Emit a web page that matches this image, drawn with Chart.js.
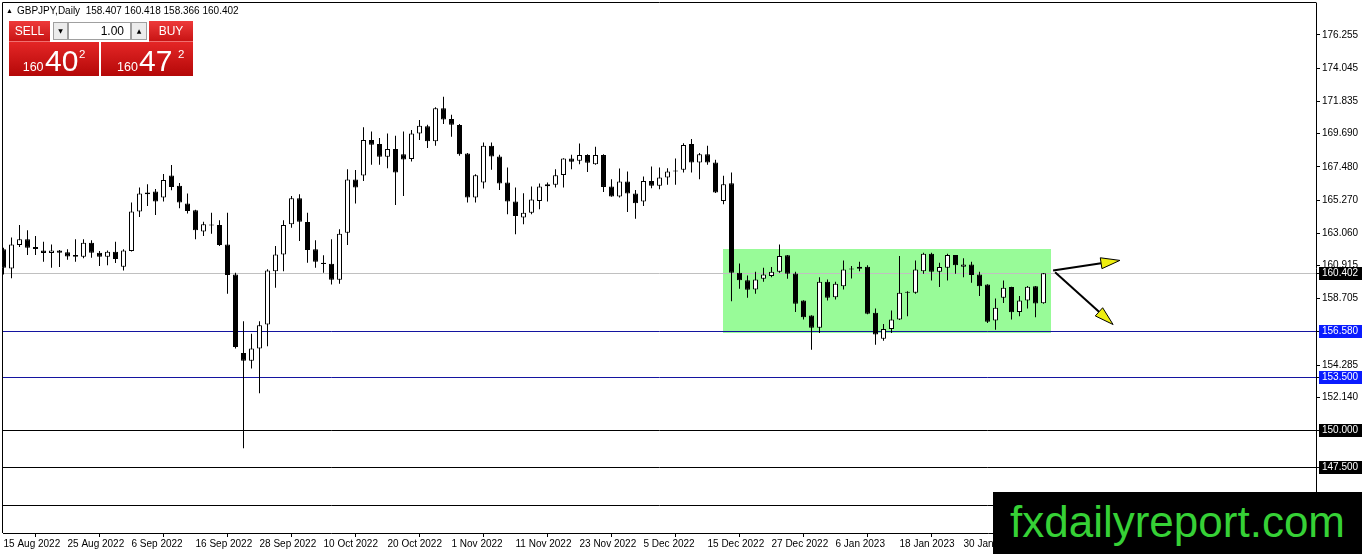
<!DOCTYPE html>
<html><head><meta charset="utf-8">
<script src="https://cdn.jsdelivr.net/npm/chart.js@4.4.1/dist/chart.umd.min.js"></script>
<style>
html,body{margin:0;padding:0;background:#fff;}
#wrap{position:relative;width:1362px;height:554px;overflow:hidden;}
canvas{display:block;}
#hdr{position:absolute;left:6px;top:6px;font:10px "Liberation Sans",Arial,sans-serif;color:#000;white-space:pre;line-height:1;}
#hdr .tri{font-size:7px;vertical-align:1px;margin-right:4px;}
.btn{position:absolute;background:linear-gradient(#ee3a3a,#c81414);color:#fff;font:12px "Liberation Sans",Arial,sans-serif;text-align:center;box-sizing:border-box;border-bottom:1px solid #f07070;}
.spin{position:absolute;background:#ececec;border:1px solid #a0a0a0;box-sizing:border-box;font:6px "DejaVu Sans",sans-serif;text-align:center;line-height:16px;color:#000;}
.fld{position:absolute;background:#fff;border:1px solid #a0a0a0;box-sizing:border-box;font:12px "Liberation Sans",Arial,sans-serif;text-align:right;padding-right:6px;line-height:16px;color:#000;}
.big{position:absolute;background:linear-gradient(#e42626,#b40808);color:#fff;font-family:"Liberation Sans",Arial,sans-serif;}
.big span{position:absolute;line-height:1;white-space:pre;}
.big .s{font-size:12.5px;top:19px;}
.big .b{font-size:30px;top:4px;}
.big .p{font-size:11.5px;top:6.5px;}
#wm{position:absolute;left:993px;top:492px;width:369px;height:62px;background:#000;}
#wm span{position:absolute;left:17px;top:8px;font:44px "Liberation Sans",Arial,sans-serif;line-height:1;color:#36d136;white-space:pre;}
</style></head>
<body>
<div id="wrap">
<canvas id="c" width="1362" height="554"></canvas>
<div id="hdr"><span class="tri">▲</span>GBPJPY,Daily  158.407 160.418 158.366 160.402</div>
<div class="btn" style="left:9px;top:21px;width:41px;height:21px;line-height:20px;">SELL</div>
<div class="spin" style="left:53px;top:22px;width:15px;height:18px;">▼</div>
<div class="fld" style="left:68px;top:22px;width:63px;height:18px;">1.00</div>
<div class="spin" style="left:131px;top:22px;width:16px;height:18px;">▲</div>
<div class="btn" style="left:149px;top:21px;width:44px;height:21px;line-height:20px;">BUY</div>
<div class="big" style="left:9px;top:42px;width:90px;height:34px;">
  <span class="s" style="left:13.7px;">160</span><span class="b" style="left:36px;">40</span><span class="p" style="left:70px;">2</span>
</div>
<div class="big" style="left:101px;top:42px;width:92px;height:34px;">
  <span class="s" style="left:16px;">160</span><span class="b" style="left:38px;">47</span><span class="p" style="left:77px;">2</span>
</div>
<div id="wm"><span>fxdailyreport.com</span></div>
</div>
<script>
// ---- data (GBPJPY daily, bar index 0 = 15 Aug 2022) ----
const openP = [161.99,160.72,162.28,162.66,162.14,161.92,161.74,161.92,161.79,161.61,
161.50,162.43,161.77,161.50,161.83,160.83,161.88,164.50,165.77,165.83,
165.43,166.90,166.21,165.03,164.59,163.17,163.60,163.61,162.32,160.32,
155.10,154.59,155.39,156.99,160.54,161.65,163.66,165.39,163.81,161.99,
161.10,161.03,159.97,163.10,166.63,166.90,169.26,168.99,168.14,168.66,
168.32,167.99,169.70,170.17,169.17,171.37,170.66,170.26,168.37,165.43,
166.43,168.88,168.17,166.43,165.17,164.10,164.43,165.21,166.19,166.28,
166.94,168.03,167.88,168.26,167.65,168.26,166.17,165.50,166.50,165.70,
165.17,166.54,166.21,166.77,167.17,167.28,168.99,167.77,168.32,167.77,
165.21,166.39,160.43,159.94,159.32,160.03,160.21,160.50,161.59,160.39,
158.59,157.59,156.77,159.83,158.81,159.54,160.72,160.70,160.83,157.77,
156.05,156.70,157.32,159.10,159.10,160.54,161.70,160.50,160.77,161.61,
160.83,160.99,160.32,159.65,157.26,158.77,159.48,157.83,158.59,159.54,
158.407];
const highP = [162.10,162.77,163.61,163.26,162.88,162.50,162.32,161.94,161.99,162.66,
162.66,162.59,161.88,161.92,162.50,161.99,165.10,166.10,166.32,166.00,
167.00,167.60,166.40,165.70,164.62,163.83,164.43,163.92,164.43,160.43,
157.21,156.37,157.21,160.66,162.21,163.92,165.54,165.65,164.43,162.59,
161.59,162.66,163.32,167.32,167.26,170.10,169.83,169.39,169.70,169.54,
169.83,169.92,170.59,170.28,171.43,172.14,170.94,170.32,168.40,166.99,
169.10,169.10,168.28,167.43,166.10,165.72,166.17,166.37,166.43,167.32,
168.05,168.28,169.03,168.32,168.81,168.32,166.65,167.37,167.17,165.94,
166.83,167.50,167.43,167.39,168.03,169.05,169.32,168.39,168.88,167.94,
166.88,167.10,161.05,160.25,160.50,160.77,160.81,162.32,161.62,160.50,
158.60,157.60,160.14,159.99,159.83,161.25,160.88,161.17,160.94,158.05,
157.03,157.92,161.54,159.20,161.25,161.77,161.77,161.10,161.70,161.62,
161.39,161.17,160.50,159.67,158.72,159.92,159.50,158.88,159.55,159.56,
160.418];
const lowP = [160.32,160.06,162.14,161.61,161.61,161.17,160.77,160.81,161.30,161.17,
161.39,161.43,160.88,160.94,161.08,160.59,161.85,164.14,164.88,164.28,
165.17,165.92,164.72,164.37,162.66,162.88,163.03,162.21,159.03,155.39,
148.77,154.06,152.43,155.54,159.43,160.54,163.43,162.54,161.10,160.77,
160.43,159.65,159.70,162.28,165.03,166.54,167.61,167.61,167.39,164.94,
165.54,167.83,169.26,168.72,168.88,170.32,169.48,168.21,165.10,165.10,
166.03,167.28,165.94,164.32,162.99,163.66,164.32,164.66,165.17,166.10,
166.10,167.32,167.65,167.14,167.61,165.81,165.48,165.43,164.48,164.03,
164.88,166.06,165.99,166.28,166.28,167.10,167.10,166.65,167.61,165.74,
164.99,158.54,159.37,158.77,159.03,159.83,160.14,160.43,160.03,157.83,
157.32,155.32,156.43,158.59,158.65,159.32,160.05,160.54,157.68,155.65,
155.92,156.43,157.30,157.54,159.03,160.37,159.92,159.48,159.92,160.37,
160.14,159.77,158.88,157.10,156.65,158.43,157.32,157.54,158.05,157.48,
158.366];
const closeP = [160.77,162.32,162.66,162.10,162.01,161.74,161.92,161.77,161.52,161.50,
162.43,161.77,161.50,161.83,161.34,161.92,164.50,165.70,165.66,165.17,
166.60,166.14,165.10,164.54,163.26,163.66,163.57,162.28,160.28,155.50,
154.59,155.39,156.94,160.59,161.65,163.61,165.39,163.83,161.94,161.17,
161.01,159.97,163.03,166.63,166.10,169.26,168.94,168.14,168.66,167.10,
167.97,169.70,170.21,169.17,171.37,170.63,170.28,168.32,165.43,166.92,
168.88,168.17,166.37,165.17,164.21,164.43,165.30,166.17,166.32,166.92,
168.03,167.81,168.26,167.74,168.26,166.14,165.50,166.50,165.70,165.05,
166.54,166.21,166.77,167.17,167.23,168.92,167.77,168.32,167.77,165.77,
166.32,160.43,159.94,159.30,159.99,160.32,160.50,161.54,160.37,158.37,
157.48,156.77,159.83,158.77,159.70,160.65,160.65,160.83,157.70,156.32,
156.70,157.32,159.10,159.17,160.65,161.70,160.50,160.81,161.61,160.94,
160.99,160.28,159.54,157.17,158.10,159.43,157.81,158.59,159.50,158.39,
160.402];

const tickIndex = [0,8,16,24,32,40,48,56,64,72,80,88,96,104,112,120];
const tickLabels = ["15 Aug 2022","25 Aug 2022","6 Sep 2022","16 Sep 2022","28 Sep 2022","10 Oct 2022",
  "20 Oct 2022","1 Nov 2022","11 Nov 2022","23 Nov 2022","5 Dec 2022","15 Dec 2022",
  "27 Dec 2022","6 Jan 2023","18 Jan 2023","30 Jan 2023"];
const priceTicks = [176.255,174.045,171.835,169.690,167.480,165.270,163.060,160.915,158.705,154.285,152.140];

// horizontal levels
const levelValues = [156.580,153.500,150.000,147.500,145.000];
const levelColors = ['#1414a0','#1414a0','#000000','#000000','#000000'];
const currentPrice = 160.402;
// tagged price labels on the axis
const tagValues = [160.402,156.580,153.500,150.000,147.500];
const tagColors = ['#000000','#0a1cff','#0a1cff','#000000','#000000'];
// range rectangle (bar index / price)
const zoneX = [89.95,130.94];
const zoneY = [161.99,156.39];
// arrows (bar index / price)
const arrowStartX = [131.2,131.45];
const arrowStartY = [160.59,160.46];
const arrowEndX = [139.55,138.7];
const arrowEndY = [161.255,156.99];

const FONT = '"Liberation Sans", Arial, sans-serif';

const bodyData = openP.map((o,i)=>({x:i, y:[Math.min(o,closeP[i]), Math.max(o,closeP[i])]}));
const wickData = openP.map((o,i)=>({x:i, y:[lowP[i], highP[i]]}));

function drawArrow(ctx,x0,y0,x1,y1){
  const a=Math.atan2(y1-y0,x1-x0), len=19, half=5.5;
  const bx=x1-len*Math.cos(a), by=y1-len*Math.sin(a);
  ctx.strokeStyle='#000'; ctx.lineWidth=2;
  ctx.beginPath(); ctx.moveTo(x0,y0); ctx.lineTo(bx,by); ctx.stroke();
  ctx.beginPath(); ctx.moveTo(x1,y1);
  ctx.lineTo(bx+half*Math.sin(a), by-half*Math.cos(a));
  ctx.lineTo(bx-half*Math.sin(a), by+half*Math.cos(a));
  ctx.closePath();
  ctx.fillStyle='#eeee10'; ctx.fill(); ctx.lineWidth=1; ctx.stroke();
}

const overlay = {
  id:'overlay',
  beforeDatasetsDraw(chart){
    const {ctx, chartArea:a, scales:{x,y}} = chart;
    ctx.save();
    ctx.beginPath(); ctx.rect(a.left,a.top,a.right-a.left,a.bottom-a.top); ctx.clip();
    const zx0=x.getPixelForValue(zoneX[0]), zx1=x.getPixelForValue(zoneX[1]);
    const zy0=y.getPixelForValue(zoneY[0]), zy1=y.getPixelForValue(zoneY[1]);
    ctx.fillStyle='#98fb98';
    ctx.fillRect(Math.round(zx0),Math.round(zy0),Math.round(zx1-zx0),Math.round(zy1-zy0));
    ctx.lineWidth=1;
    const cp=Math.round(y.getPixelForValue(currentPrice))+0.5;
    ctx.strokeStyle='#c0c0c0';
    ctx.beginPath(); ctx.moveTo(a.left,cp); ctx.lineTo(a.right,cp); ctx.stroke();
    levelValues.forEach((v,k)=>{
      const py=Math.round(y.getPixelForValue(v))+0.5;
      ctx.strokeStyle=levelColors[k];
      ctx.beginPath(); ctx.moveTo(a.left,py); ctx.lineTo(a.right,py); ctx.stroke();
    });
    ctx.restore();
  },
  afterDatasetsDraw(chart){
    const {ctx, scales:{x,y}} = chart;
    ctx.save();
    for(let k=0;k<arrowStartX.length;k++){
      drawArrow(ctx,x.getPixelForValue(arrowStartX[k]),y.getPixelForValue(arrowStartY[k]),
                    x.getPixelForValue(arrowEndX[k]),y.getPixelForValue(arrowEndY[k]));
    }
    ctx.restore();
  },
  afterDraw(chart){
    const {ctx, chartArea:a, scales:{y}} = chart;
    ctx.save();
    ctx.strokeStyle='#000'; ctx.lineWidth=1;
    ctx.beginPath();
    ctx.moveTo(a.left-0.5,a.bottom); ctx.lineTo(a.left-0.5,a.top-0.5); ctx.lineTo(a.right+0.5,a.top-0.5);
    ctx.stroke();
    ctx.font='10px '+FONT; ctx.textBaseline='middle'; ctx.textAlign='left';
    tagValues.forEach((v,k)=>{
      const py=Math.round(y.getPixelForValue(v));
      ctx.strokeStyle='#000';
      ctx.beginPath(); ctx.moveTo(a.right,py+0.5); ctx.lineTo(a.right+4,py+0.5); ctx.stroke();
      ctx.fillStyle=tagColors[k];
      ctx.fillRect(a.right+3,py-6,43,13);
      ctx.fillStyle='#fff';
      ctx.fillText(v.toFixed(3),a.right+6,py+0.5);
    });
    ctx.restore();
  }
};

new Chart(document.getElementById('c'),{
  type:'bar',
  data:{datasets:[
    {data:bodyData, grouped:false, barThickness:5, maxBarThickness:5, minBarLength:1,
     backgroundColor:ctx=>{const i=ctx.dataIndex; return closeP[i]>=openP[i]?'#ffffff':'#000000';},
     borderColor:'#000', borderWidth:1, borderSkipped:false, inflateAmount:0},
    {data:wickData, grouped:false, barThickness:1, maxBarThickness:1,
     backgroundColor:'#000', borderWidth:0, inflateAmount:0}
  ]},
  plugins:[overlay],
  options:{
    responsive:false, animation:false, devicePixelRatio:1,
    layout:{padding:{left:3,top:3,right:0,bottom:0}},
    plugins:{legend:{display:false}, tooltip:{enabled:false}},
    scales:{
      x:{type:'linear', min:-0.0625, max:164.0625, offset:false,
        grid:{drawOnChartArea:false, drawTicks:true, tickLength:4, color:'#000'},
        border:{display:true,color:'#000'},
        afterBuildTicks:s=>{s.ticks=tickIndex.map(v=>({value:v}));},
        afterFit:s=>{s.height=21; s.paddingLeft=0; s.paddingRight=0;},
        ticks:{autoSkip:false, maxRotation:0, minRotation:0, align:'start', padding:1, color:'#000',
          font:{family:FONT,size:10},
          callback:v=>tickLabels[tickIndex.indexOf(v)]}
      },
      y:{type:'linear', position:'right', min:143.13, max:178.369,
        grid:{drawOnChartArea:false, drawTicks:true, tickLength:4, color:'#000'},
        border:{display:true,color:'#000'},
        afterBuildTicks:s=>{s.ticks=priceTicks.map(v=>({value:v}));},
        afterFit:s=>{s.width=46; s.paddingTop=0; s.paddingBottom=0;},
        ticks:{autoSkip:false, padding:2, color:'#000', font:{family:FONT,size:10},
          callback:v=>v.toFixed(3)}
      }
    }
  }
});
</script>
</body></html>
